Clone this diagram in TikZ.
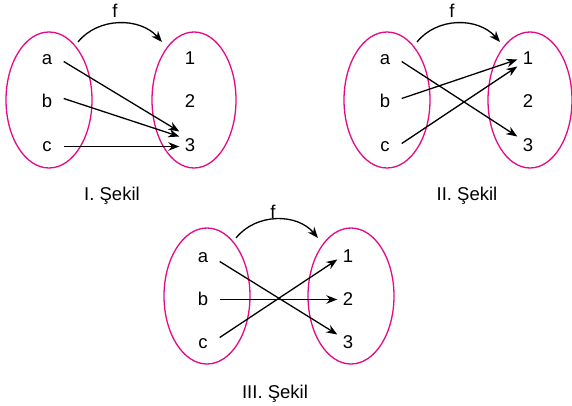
\documentclass[tikz,border=0pt]{standalone}
\usepackage{fontspec}
\setmainfont{Liberation Sans}
\usetikzlibrary{arrows.meta}
\definecolor{setpink}{RGB}{228,10,135}
\tikzset{
  setline/.style={draw=setpink, line width=1.3pt},
  elem/.style={font=\fontsize{18.5}{20}\selectfont, text height=13pt, text depth=0pt, inner xsep=0pt, inner ysep=0pt},
  dom/.style={elem, minimum width=33pt},
  cod/.style={elem, minimum width=21pt},
  maparrow/.style={draw=black, line width=1.3pt, -{Stealth[length=11pt,width=8.5pt]}},
  labeltext/.style={font=\fontsize{18.5}{20}\selectfont, anchor=base},
}
\begin{document}
\begin{tikzpicture}[x=1pt,y=-1pt]
\useasboundingbox (0,0) rectangle (572,406);

% ---------- I. Şekil ----------
\draw[setline] (49,100) ellipse[x radius=43, y radius=68];
\draw[setline] (194,100) ellipse[x radius=42, y radius=68];
\node[dom] (Ia) at (47,58.5) {a};
\node[dom] (Ib) at (47,101.5) {b};
\node[dom] (Ic) at (47,145.5) {c};
\node[cod] (I1) at (190,58.5) {1};
\node[cod] (I2) at (190,101.5) {2};
\node[cod] (I3) at (190,145.5) {3};
\draw[maparrow] ([yshift=-3pt]Ia.east) -- ([yshift=14pt]I3.west);
\draw[maparrow] ([yshift=3pt]Ib.east) -- ([yshift=9pt]I3.west);
\draw[maparrow] ([yshift=-1pt]Ic.east) -- ([yshift=-1pt]I3.west);
\coordinate (Ifs) at (78,42);
\coordinate (Ife) at (162,42);
\draw[maparrow] (Ifs) .. controls (98,17) and (140,17) .. (Ife);
\node[labeltext] (If) at (115,18) {f};
\node[labeltext] (Icap) at (112,200) {I. Şekil};

% ---------- II. Şekil ----------
\draw[setline] (387,100) ellipse[x radius=43, y radius=68];
\draw[setline] (530,100) ellipse[x radius=42, y radius=68];
\node[dom] (IIa) at (385,58.5) {a};
\node[dom] (IIb) at (385,101.5) {b};
\node[dom] (IIc) at (385,145.5) {c};
\node[cod] (II1) at (528,58.5) {1};
\node[cod] (II2) at (528,101.5) {2};
\node[cod] (II3) at (528,145.5) {3};
\draw[maparrow] ([yshift=-3pt]IIa.east) -- ([yshift=9pt]II3.west);
\draw[maparrow] ([yshift=3pt]IIb.east) -- ([yshift=-1pt]II1.west);
\draw[maparrow] ([yshift=2pt]IIc.east) -- ([yshift=-8pt]II1.west);
\coordinate (IIfs) at (417,42);
\coordinate (IIfe) at (500,42);
\draw[maparrow] (IIfs) .. controls (437,17) and (478,17) .. (IIfe);
\node[labeltext] (IIf) at (452,18) {f};
\node[labeltext] (IIcap) at (467,200) {II. Şekil};

% ---------- III. Şekil ----------
\draw[setline] (207,296) ellipse[x radius=43, y radius=68];
\draw[setline] (351,296) ellipse[x radius=43, y radius=68];
\node[dom] (IIIa) at (203,255.5) {a};
\node[dom] (IIIb) at (203,298.5) {b};
\node[dom] (IIIc) at (203,341.5) {c};
\node[cod] (III1) at (348,255.5) {1};
\node[cod] (III2) at (348,298.5) {2};
\node[cod] (III3) at (348,341.5) {3};
\draw[maparrow] ([yshift=-6pt]IIIa.east) -- ([yshift=7pt]III3.west);
\draw[maparrow] ([yshift=-1pt]IIIb.east) -- ([yshift=-1pt]III2.west);
\draw[maparrow] ([yshift=4pt]IIIc.east) -- ([yshift=-4pt]III1.west);
\coordinate (IIIfs) at (236,238);
\coordinate (IIIfe) at (318,238);
\draw[maparrow] (IIIfs) .. controls (256,213) and (297,213) .. (IIIfe);
\node[labeltext] (IIIf) at (273,218) {f};
\node[labeltext] (IIIcap) at (275,398) {III. Şekil};
\end{tikzpicture}
\end{document}
